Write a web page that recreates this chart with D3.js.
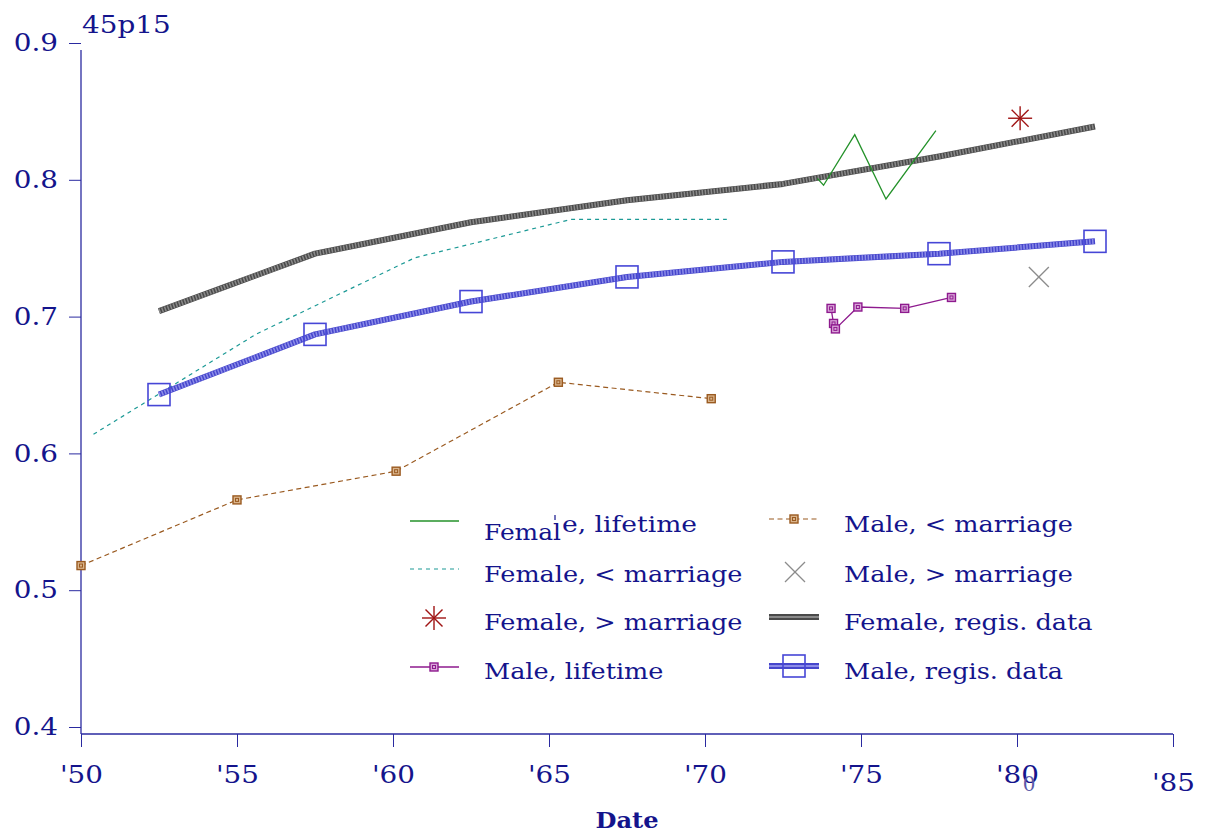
<!DOCTYPE html>
<html>
<head>
<meta charset="utf-8">
<script src="https://cdn.jsdelivr.net/npm/d3@7"></script>
<style>
  body { margin: 0; background: #fff; }
  svg text { font-family: "DejaVu Serif", serif; fill: #14148c; }
</style>
</head>
<body>
<svg id="chart" width="1208" height="837"></svg>
<script>
// years and shares
const regisYears = [1952.5, 1957.5, 1962.5, 1967.5, 1972.5, 1977.5, 1982.5];
const femaleRegis = [0.704, 0.746, 0.769, 0.785, 0.797, 0.817, 0.839];
const maleRegis = [0.643, 0.687, 0.711, 0.729, 0.740, 0.746, 0.755];

const femaleBeforeYears = [1950.4, 1955.6, 1960.7, 1965.7, 1970.7];
const femaleBefore = [0.614, 0.687, 0.743, 0.771, 0.771];

const maleBeforeYears = [1950.0, 1955.0, 1960.1, 1965.3, 1970.2];
const maleBefore = [0.518, 0.566, 0.587, 0.652, 0.640];

const femaleLifeYears = [1973.6, 1973.8, 1974.8, 1975.8, 1977.4];
const femaleLife = [0.801, 0.796, 0.833, 0.786, 0.836];

const maleLifeYears = [1974.04, 1974.12, 1974.18, 1974.9, 1976.4, 1977.9];
const maleLife = [0.706, 0.695, 0.691, 0.707, 0.706, 0.714];

const femaleAfterYears = [1980.1];
const femaleAfter = [0.845];
const maleAfterYears = [1980.7];
const maleAfter = [0.729];

const xTicks = [1950, 1955, 1960, 1965, 1970, 1975, 1980, 1985];
const yTicks = [0.4, 0.5, 0.6, 0.7, 0.8, 0.9];

const legendLeft = ['Female, lifetime', 'Female, < marriage', 'Female, > marriage', 'Male, lifetime'];
const legendRight = ['Male, < marriage', 'Male, > marriage', 'Female, regis. data', 'Male, regis. data'];

const navy = '#14148c';
const axisColor = '#2a2aa0';
const stretch = 1.16; // the original face is wider than DejaVu Serif

const svg = d3.select('#chart');
const x = d3.scaleLinear().domain([1950, 1985]).range([81, 1173]);
const y = d3.scaleLinear().domain([0.4, 0.9]).range([727, 43]);

const zip = (xs, ys) => xs.map((v, i) => [v, ys[i]]);
const line = d3.line().x(d => x(d[0])).y(d => y(d[1]));

// widen a text selection so it matches the original letter widths
function widen(sel, f = stretch) {
  sel.each(function () {
    const w = this.getComputedTextLength();
    d3.select(this).attr('textLength', w * f).attr('lengthAdjust', 'spacingAndGlyphs');
  });
  return sel;
}

// axes
const axisY = 734;
const yAxis = svg.append('g').attr('transform', 'translate(81,0)')
  .call(d3.axisLeft(y).tickValues(yTicks).tickSize(12).tickPadding(11).tickFormat(d3.format('.1f')));
yAxis.select('.domain').remove();
yAxis.selectAll('line').attr('stroke', axisColor);
widen(yAxis.selectAll('text').attr('font-size', 24).attr('fill', navy).style('font-family', '"DejaVu Serif", serif'));

const xAxis = svg.append('g').attr('transform', `translate(0,${axisY})`)
  .call(d3.axisBottom(x).tickValues(xTicks).tickSize(13).tickPadding(19).tickFormat(d => "'" + String(d).slice(2)));
xAxis.select('.domain').remove();
xAxis.selectAll('line').attr('stroke', axisColor);
widen(xAxis.selectAll('text').attr('font-size', 24).attr('fill', navy).style('font-family', '"DejaVu Serif", serif')
  .attr('dy', (d, i) => i === xTicks.length - 1 ? '1.05em' : '0.71em'));

svg.append('line').attr('x1', 81).attr('x2', 81).attr('y1', 50).attr('y2', axisY)
  .attr('stroke', axisColor).attr('stroke-width', 1.3);
svg.append('line').attr('x1', 81).attr('x2', x(1985)).attr('y1', axisY).attr('y2', axisY)
  .attr('stroke', axisColor).attr('stroke-width', 1.3);

widen(svg.append('text').attr('x', 82).attr('y', 33).attr('font-size', 24).text('45p15'));
widen(svg.append('text').attr('x', 627).attr('y', 828).attr('text-anchor', 'middle')
  .attr('font-size', 23).attr('font-weight', 'bold').text('Date'), 1.05);
// stray glyph under the '80 label, as in the original
svg.append('text').attr('x', 1029).attr('y', 791).attr('text-anchor', 'middle')
  .attr('font-size', 20).style('fill', '#5a5aa8').text('0');

// helpers for marks
function thickLine(g, pts, base, stripe) {
  g.append('path').datum(pts).attr('d', line).attr('fill', 'none')
    .attr('stroke', base).attr('stroke-width', 6).attr('stroke-linejoin', 'round');
  g.append('path').datum(pts).attr('d', line).attr('fill', 'none')
    .attr('stroke', stripe).attr('stroke-width', 5).attr('stroke-dasharray', '1.5,1.5');
}

function smallSquare(g, cx, cy, color, fill) {
  g.append('rect').attr('x', cx - 4).attr('y', cy - 4).attr('width', 8).attr('height', 8)
    .attr('fill', fill).attr('stroke', color).attr('stroke-width', 1.4);
  g.append('rect').attr('x', cx - 1.5).attr('y', cy - 1.5).attr('width', 3).attr('height', 3)
    .attr('fill', 'none').attr('stroke', color).attr('stroke-width', 1);
}

function bigSquare(g, cx, cy) {
  g.append('rect').attr('x', cx - 11).attr('y', cy - 11).attr('width', 22).attr('height', 22)
    .attr('fill', 'none').attr('stroke', '#4646d6').attr('stroke-width', 1.6);
}

function asterisk(g, cx, cy, r, color) {
  [0, 45, 90, 135].forEach(a => {
    const rad = a * Math.PI / 180;
    g.append('line').attr('x1', cx - r * Math.cos(rad)).attr('y1', cy - r * Math.sin(rad))
      .attr('x2', cx + r * Math.cos(rad)).attr('y2', cy + r * Math.sin(rad))
      .attr('stroke', color).attr('stroke-width', 1.4);
  });
}

function cross(g, cx, cy, r, color) {
  g.append('line').attr('x1', cx - r).attr('y1', cy - r).attr('x2', cx + r).attr('y2', cy + r)
    .attr('stroke', color).attr('stroke-width', 1.3);
  g.append('line').attr('x1', cx - r).attr('y1', cy + r).attr('x2', cx + r).attr('y2', cy - r)
    .attr('stroke', color).attr('stroke-width', 1.3);
}

const brown = '#9a5a20', purple = '#8e1a8e', teal = '#1d9a96', green = '#24922a';
const plot = svg.append('g');

// Male, < marriage
plot.append('path').datum(zip(maleBeforeYears, maleBefore)).attr('d', line).attr('fill', 'none')
  .attr('stroke', brown).attr('stroke-width', 1.2).attr('stroke-dasharray', '5,3.5');
zip(maleBeforeYears, maleBefore).forEach(d => smallSquare(plot, x(d[0]), y(d[1]), brown, '#d9b48c'));

// Female, < marriage
plot.append('path').datum(zip(femaleBeforeYears, femaleBefore)).attr('d', line).attr('fill', 'none')
  .attr('stroke', teal).attr('stroke-width', 1.2).attr('stroke-dasharray', '4,4');

// Female, regis. data
thickLine(plot, zip(regisYears, femaleRegis), '#4a4a4a', '#8a8a8a');

// Male, regis. data
thickLine(plot, zip(regisYears, maleRegis), '#4646cc', '#8c8ce8');
zip(regisYears, maleRegis).forEach(d => bigSquare(plot, x(d[0]), y(d[1])));

// Female, lifetime
plot.append('path').datum(zip(femaleLifeYears, femaleLife)).attr('d', line).attr('fill', 'none')
  .attr('stroke', green).attr('stroke-width', 1.3);

// Male, lifetime
plot.append('path').datum(zip(maleLifeYears, maleLife)).attr('d', line).attr('fill', 'none')
  .attr('stroke', purple).attr('stroke-width', 1.3);
zip(maleLifeYears, maleLife).forEach(d => smallSquare(plot, x(d[0]), y(d[1]), purple, '#d9a6d9'));

// single points
zip(femaleAfterYears, femaleAfter).forEach(d => asterisk(plot, x(d[0]), y(d[1]), 12, '#a01414'));
zip(maleAfterYears, maleAfter).forEach(d => cross(plot, x(d[0]), y(d[1]), 10, '#8c8c8c'));

// legend
const lg = svg.append('g');
const rowY = [521, 569, 618, 667];
const textY = [532, 582, 630, 679];
const col1 = { x1: 410, x2: 459, tx: 484 };
const col2 = { x1: 769, x2: 819, tx: 844 };

lg.append('line').attr('x1', col1.x1).attr('x2', col1.x2).attr('y1', rowY[0]).attr('y2', rowY[0])
  .attr('stroke', green).attr('stroke-width', 1.3);
lg.append('line').attr('x1', col1.x1).attr('x2', col1.x2).attr('y1', rowY[1]).attr('y2', rowY[1])
  .attr('stroke', teal).attr('stroke-width', 1.2).attr('stroke-dasharray', '4,4');
asterisk(lg, 434, rowY[2], 12, '#a01414');
lg.append('line').attr('x1', col1.x1).attr('x2', col1.x2).attr('y1', rowY[3]).attr('y2', rowY[3])
  .attr('stroke', purple).attr('stroke-width', 1.3);
smallSquare(lg, 434, rowY[3], purple, '#d9a6d9');

lg.append('line').attr('x1', col2.x1).attr('x2', col2.x2).attr('y1', rowY[0] - 2).attr('y2', rowY[0] - 2)
  .attr('stroke', brown).attr('stroke-width', 1.2).attr('stroke-dasharray', '5,3.5');
smallSquare(lg, 794, rowY[0] - 2, brown, '#d9b48c');
cross(lg, 795, rowY[1] + 3, 10, '#8c8c8c');
lg.append('line').attr('x1', col2.x1).attr('x2', col2.x2).attr('y1', rowY[2] - 1).attr('y2', rowY[2] - 1)
  .attr('stroke', '#4a4a4a').attr('stroke-width', 6);
lg.append('line').attr('x1', col2.x1).attr('x2', col2.x2).attr('y1', rowY[2] - 1).attr('y2', rowY[2] - 1)
  .attr('stroke', '#8a8a8a').attr('stroke-width', 2);
lg.append('line').attr('x1', col2.x1).attr('x2', col2.x2).attr('y1', rowY[3] - 1).attr('y2', rowY[3] - 1)
  .attr('stroke', '#4646cc').attr('stroke-width', 6);
lg.append('line').attr('x1', col2.x1).attr('x2', col2.x2).attr('y1', rowY[3] - 1).attr('y2', rowY[3] - 1)
  .attr('stroke', '#8c8ce8').attr('stroke-width', 2);
bigSquare(lg, 794, rowY[3] - 1);

// legend labels; the first one is printed broken in the original
lg.append('text').attr('x', col1.tx).attr('y', 540).attr('font-size', 22)
  .attr('textLength', 77).attr('lengthAdjust', 'spacingAndGlyphs').text(legendLeft[0].slice(0, 5));
lg.append('text').attr('x', 562).attr('y', 532).attr('font-size', 22)
  .attr('textLength', 135).attr('lengthAdjust', 'spacingAndGlyphs').text(legendLeft[0].slice(5));
lg.append('line').attr('x1', 555).attr('x2', 555).attr('y1', 515).attr('y2', 520)
  .attr('stroke', navy).attr('stroke-width', 1.2);
legendLeft.slice(1).forEach((t, i) => {
  widen(lg.append('text').attr('x', col1.tx).attr('y', textY[i + 1]).attr('font-size', 22).text(t));
});
legendRight.forEach((t, i) => {
  widen(lg.append('text').attr('x', col2.tx).attr('y', textY[i]).attr('font-size', 22).text(t));
});
</script>
</body>
</html>
